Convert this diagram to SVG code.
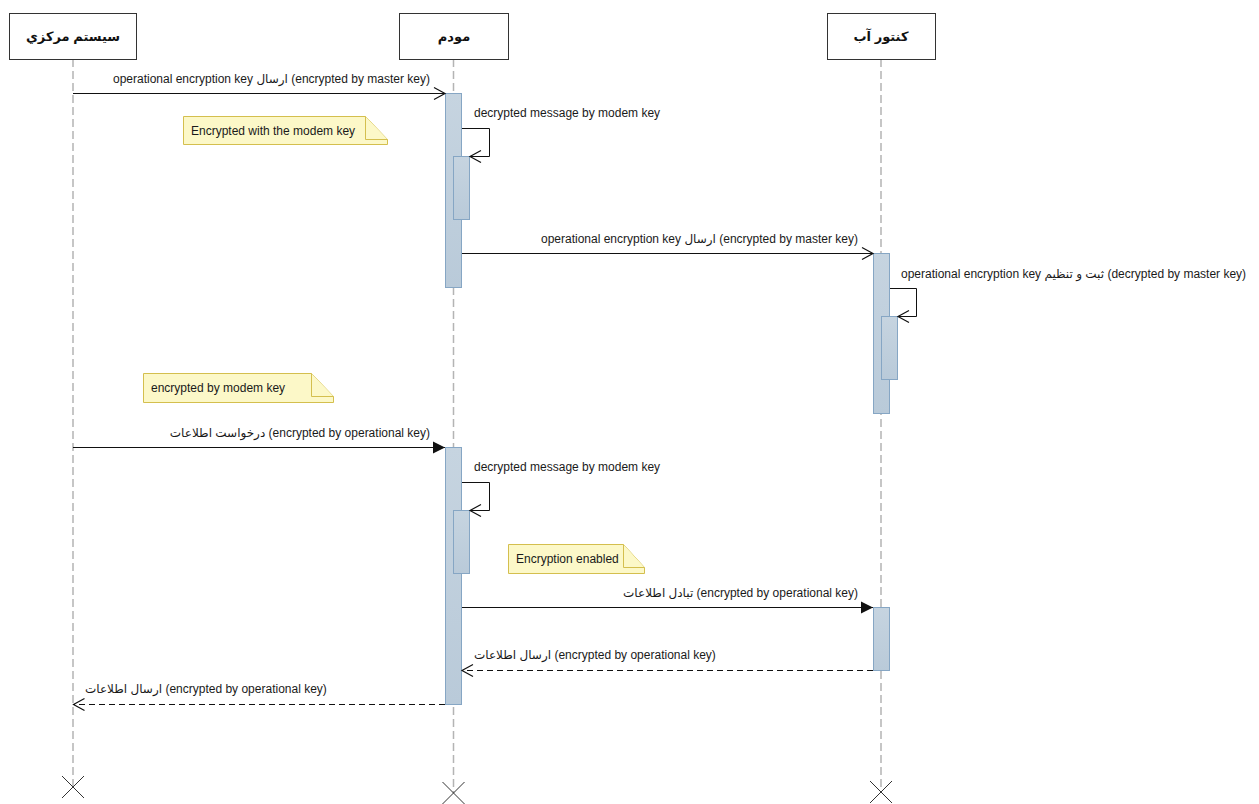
<svg xmlns="http://www.w3.org/2000/svg" width="1259" height="804" viewBox="0 0 1259 804">
  <style>
    .head { fill: #ffffff; stroke: #333333; stroke-width: 1; }
    .head-text { font-family: "Liberation Sans", "DejaVu Sans", sans-serif; font-size: 13px; font-weight: bold; fill: #111111; text-anchor: middle; }
    .lifeline { stroke: #b4b4b4; stroke-width: 1.5; stroke-dasharray: 8 4; fill: none; }
    .destroy { stroke: #333333; stroke-width: 1; fill: none; }
    .act { fill: url(#actFill); stroke: #86a6c4; stroke-width: 1; }
    .msg { stroke: #111111; stroke-width: 1; fill: none; }
    .sync { marker-end: url(#filledHead); }
    .async { marker-end: url(#openHead); }
    .reply { stroke-dasharray: 6 4; marker-end: url(#openHead); }
    .label { font-family: "Liberation Sans", "DejaVu Sans", sans-serif; font-size: 12px; fill: #1a1a1a; }
    .note { fill: #fcf8c8; stroke: #d4bf4e; stroke-width: 1; }
  </style>
  <defs>
    <linearGradient id="actFill" x1="0" y1="0" x2="0" y2="1">
      <stop offset="0" stop-color="#c6d4e0"/>
      <stop offset="1" stop-color="#b9cad9"/>
    </linearGradient>
    <marker id="openHead" markerUnits="userSpaceOnUse" markerWidth="14" markerHeight="16" refX="12" refY="7" orient="auto" overflow="visible">
      <path d="M1,1 L12,7 L1,13" fill="none" stroke="#111111" stroke-width="1.2"/>
    </marker>
    <marker id="filledHead" markerUnits="userSpaceOnUse" markerWidth="14" markerHeight="16" refX="12" refY="7" orient="auto" overflow="visible">
      <path d="M0,1 L12,7 L0,13 Z" fill="#111111"/>
    </marker>
  </defs>

  <rect width="1259" height="804" fill="#ffffff"/>

  <!-- lifelines with their heads and destruction marks -->
  <g id="central-system">
    <line class="lifeline" x1="73" y1="59" x2="73" y2="787"/>
    <rect class="head" x="9.5" y="13.5" width="127" height="46"/>
    <text class="head-text" x="73" y="41">سيستم مرکزي</text>
    <path class="destroy" d="M62,776 L84,798 M84,776 L62,798"/>
  </g>
  <g id="modem">
    <line class="lifeline" x1="453.5" y1="59" x2="453.5" y2="793"/>
    <rect class="head" x="399.5" y="13.5" width="109" height="46"/>
    <text class="head-text" x="454" y="41">مودم</text>
    <path class="destroy" d="M442.5,782 L464.5,804 M464.5,782 L442.5,804"/>
  </g>
  <g id="water-meter">
    <line class="lifeline" x1="881" y1="59" x2="881" y2="792"/>
    <rect class="head" x="827.5" y="13.5" width="108" height="46"/>
    <text class="head-text" x="881" y="41">کنتور آب</text>
    <path class="destroy" d="M870,781 L892,803 M892,781 L870,803"/>
  </g>

  <!-- activation bars -->
  <g id="activations">
    <rect class="act" x="445.5" y="93.5" width="16" height="194"/>
    <rect class="act" x="453.5" y="156.5" width="16" height="63"/>
    <rect class="act" x="873.5" y="253.5" width="16" height="160"/>
    <rect class="act" x="881.5" y="316.5" width="16" height="63"/>
    <rect class="act" x="445.5" y="447.5" width="16" height="257"/>
    <rect class="act" x="453.5" y="510.5" width="16" height="63"/>
    <rect class="act" x="873.5" y="607.5" width="16" height="63"/>
  </g>

  <!-- notes -->
  <g id="note-modem-key">
    <path class="note" d="M183.5,116.5 H365.5 L387.5,139.5 V144.5 H183.5 Z"/>
    <path class="note" d="M365.5,116.5 V139.5 H387.5"/>
    <text class="label" x="191" y="135">Encrypted with the modem key</text>
  </g>
  <g id="note-encrypted-modem">
    <path class="note" d="M143.5,373.5 H311.5 L333.5,396.5 V402.5 H143.5 Z"/>
    <path class="note" d="M311.5,373.5 V396.5 H333.5"/>
    <text class="label" x="151" y="392">encrypted by modem key</text>
  </g>
  <g id="note-encryption-enabled">
    <path class="note" d="M508.5,544.5 H623.5 L644.5,567.5 V573.5 H508.5 Z"/>
    <path class="note" d="M623.5,544.5 V567.5 H644.5"/>
    <text class="label" x="516" y="563">Encryption enabled</text>
  </g>

  <!-- messages -->
  <g id="connectors">
    <line class="msg async" x1="73" y1="93.5" x2="445" y2="93.5"/>
    <text class="label" x="430" y="83" text-anchor="end">operational encryption key ارسال (encrypted by master key)</text>

    <path class="msg async" d="M462,128.5 H489.5 V156.5 H470"/>
    <text class="label" x="474" y="117">decrypted message by modem key</text>

    <line class="msg async" x1="462" y1="253.5" x2="873" y2="253.5"/>
    <text class="label" x="858" y="243" text-anchor="end">operational encryption key ارسال (encrypted by master key)</text>

    <path class="msg async" d="M890,288.5 H916.5 V316.5 H898"/>
    <text class="label" x="901" y="278">operational encryption key ثبت و تنظیم (decrypted by master key)</text>

    <line class="msg sync" x1="73" y1="447.5" x2="445" y2="447.5"/>
    <text class="label" x="430" y="437" text-anchor="end">درخواست اطلاعات (encrypted by operational key)</text>

    <path class="msg async" d="M462,482.5 H489.5 V510.5 H470"/>
    <text class="label" x="474" y="471">decrypted message by modem key</text>

    <line class="msg sync" x1="462" y1="607.5" x2="873" y2="607.5"/>
    <text class="label" x="858" y="597" text-anchor="end">تبادل اطلاعات (encrypted by operational key)</text>

    <line class="msg reply" x1="873" y1="670.5" x2="462" y2="670.5"/>
    <text class="label" x="474" y="659">ارسال اطلاعات (encrypted by operational key)</text>

    <line class="msg reply" x1="445" y1="704.5" x2="73.5" y2="704.5"/>
    <text class="label" x="85" y="693">ارسال اطلاعات (encrypted by operational key)</text>
  </g>
</svg>
